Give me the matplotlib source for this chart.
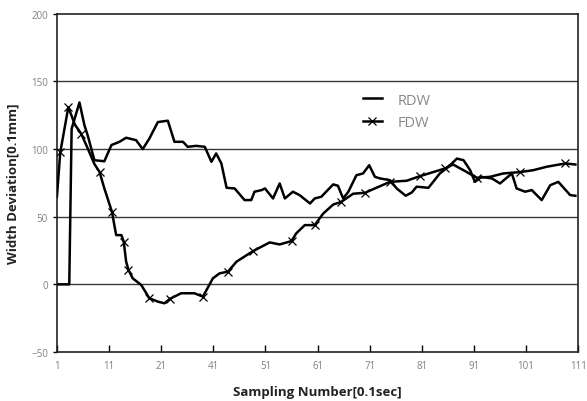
import matplotlib.pyplot as plt
import numpy as np

plt.rcParams['font.family'] = ['Open Sans', 'DejaVu Sans']

# RDW (plain line)
rdw_x = [1, 3.6, 4.1, 5.75, 6.8, 7.5, 8.9, 11, 12.5, 14.2, 15.6, 17.7, 19.1, 20.5, 22.3, 24.4,
         25.8, 27.6, 28.6, 30.4, 32.2, 33.6, 34.6, 35.7, 36.8, 38.5, 40.6, 42, 42.7, 44.2, 44.9,
         46.6, 48, 49.1, 50.8, 52.2, 54.4, 55.4, 56.8, 59.3, 60.3, 61.4, 62.5, 64.2, 65.6, 66.9,
         68.1, 69.2, 71.3, 72.7, 74.6, 75.9, 76.9, 79.4, 81.8, 83.6, 85.4, 86.8, 88.2, 89.2,
         90.6, 92.8, 94.5, 97, 98, 99.8, 101.2, 103.3, 105.1, 106.8, 109.3, 110.4]
rdw_y = [0, 0, 115, 134.5, 117.7, 110, 91.8, 91, 103, 105.4, 108.4, 106.6, 100, 107.8, 120, 121,
         105.4, 105.4, 101.7, 102.4, 101.7, 90.6, 96.8, 89.4, 71.4, 70.9, 62.3, 62.3, 68.5, 69.7, 70.9,
         63.5, 74.6, 63.5, 68.5, 66, 59.8, 63.5, 64.8, 73.9, 72.9, 63.5, 68.5, 80.7, 82, 88.1,
         79.5, 78.3, 77, 70.9, 65.5, 68, 72.2, 71.4, 82, 86.9, 93, 91.8, 84.4, 75.8,
         79.5, 78.3, 74.6, 82, 70.9, 68.5, 69.7, 62.3, 73.3, 75.8, 66, 65.5]

# FDW (line with x markers)
fdw_x = [1, 1.7, 3.4, 4.8, 6.1, 7.5, 8.9, 10, 11, 12.6, 13.5, 14.6, 15.1, 15.6, 16.1, 17, 18.8,
         20.5, 22.3, 23.7, 24.8, 27.2, 30, 31.8, 33.9, 35.3, 37.1, 38.9, 42.4, 45.9, 48, 50.5,
         51.5, 53.3, 55.4, 57.2, 59.3, 61, 63.5, 66, 68.8, 71.3, 74.8, 77.6, 80.4, 82.9, 84.6,
         86.8, 89.6, 92.4, 95.2, 98.7, 101.5, 104.4, 108.3, 110.4]
fdw_y = [65, 97.5, 131, 118, 111.5, 100.5, 89, 83, 71, 53.7, 36.4, 36.4, 31.5, 16.8, 10.6, 4.4, -0.5,
         -10.3, -12.8, -14, -10.8, -6.6, -6.6, -9.1, 4.4, 8.1, 9.4, 16.8, 24.6, 31, 29.5, 32,
         37.7, 43.8, 43.8, 52.4, 59, 61, 67, 67.7, 72, 75.8, 76.6, 80, 83, 85.7, 88.6,
         84.4, 78.8, 79.5, 82, 83, 84.4, 87, 89.4, 88.6]
fdw_marks = [1, 2, 4, 7, 9, 12, 14, 17, 20, 23, 26, 28, 31, 34, 37, 39, 41, 43, 45, 48, 51, 54]

x_ticks = np.linspace(1, 111, 11)
x_labels = ['1', '11', '21', '41', '51', '61', '71', '81', '91', '101', '111']
y_ticks = [-50, 0, 50, 100, 150, 200]

fig = plt.figure(figsize=(5.87, 4.02), dpi=100)
ax = fig.add_axes([0.097, 0.122, 0.888, 0.841])

for v in [0, 50, 100, 150]:
    ax.axhline(v, color='#3a3a3a', lw=1.0, zorder=1)

ax.plot(rdw_x, rdw_y, color='black', lw=1.8, label='RDW', zorder=3)
ax.plot(fdw_x, fdw_y, color='black', lw=1.8, marker='x', markersize=6, markeredgewidth=0.9,
        markevery=fdw_marks, label='FDW', zorder=3)

ax.set_xlim(1, 111)
ax.set_ylim(-50, 200)
ax.set_xticks(x_ticks)
ax.set_xticklabels(x_labels)
ax.set_yticks(y_ticks)
ax.tick_params(axis='x', direction='in', length=5, width=1, labelsize=7, labelcolor='#808080', pad=6)
ax.tick_params(axis='y', direction='out', length=3, width=1, labelsize=7, labelcolor='#808080')
for s in ax.spines.values():
    s.set_linewidth(1.2)
    s.set_color('#222222')

ax.set_xlabel('Sampling Number[0.1sec]', fontsize=9.5, fontweight='bold', color='#222222', labelpad=10)
ax.set_ylabel('Width Deviation[0.1mm]', fontsize=9.5, fontweight='bold', color='#222222', labelpad=8)

leg = ax.legend(loc='upper left', bbox_to_anchor=(0.562, 0.806), frameon=False, fontsize=10.5,
                handlelength=1.3, labelspacing=0.5, handletextpad=1.1)
for t in leg.get_texts():
    t.set_color('#888888')

fig.savefig('out.png', dpi=100)
